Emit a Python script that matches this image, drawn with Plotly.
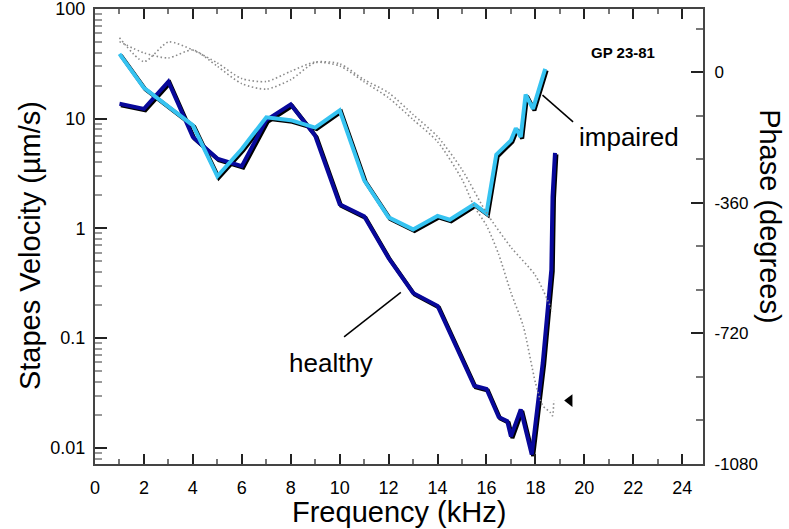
import numpy as np
import plotly.graph_objects as go

# Stapes velocity magnitude (um/s) vs frequency (kHz)
freq_impaired = [1, 2, 3, 4, 5, 6, 7, 8, 9, 10, 11, 12, 13, 14, 14.5, 15.5, 16,
                 16.4, 17, 17.2, 17.4, 17.6, 17.9, 18.4]
vel_impaired = [39, 19.1, 12.9, 8.7, 2.99, 5.3, 10.3, 9.7, 8.3, 11.9, 2.75, 1.26,
                0.98, 1.30, 1.2, 1.66, 1.37, 4.7, 6.35, 8.2, 6.8, 16.6, 12.3, 28.5]

freq_healthy = [1, 2, 3, 4, 5, 6, 7, 8, 9, 10, 11, 12, 13, 14, 15.5, 16, 16.5,
                16.85, 17.0, 17.4, 17.85, 18.3, 18.65, 18.7, 18.8]
vel_healthy = [13.7, 12.3, 21.8, 6.8, 4.33, 3.7, 9.7, 13.5, 7.0, 1.66, 1.29, 0.536,
               0.258, 0.197, 0.0368, 0.0344, 0.0191, 0.0175, 0.0127, 0.0224,
               0.0087, 0.0596, 0.42, 1.95, 4.89]

# Phase (degrees) of the two recordings
freq_phase_a = [1, 2, 3, 4, 5, 6, 7, 8, 9, 10, 11, 12, 13, 14, 15, 16, 17, 18, 18.7]
phase_a = [96, 30, 84, 62, 26, -17, -25, 3, 29, 24, -20, -56, -116, -177, -268,
           -387, -482, -560, -659]

freq_phase_b = [1, 2, 3, 4, 5, 6, 7, 8, 9, 10, 11, 12, 13, 14, 15, 15.5, 16, 16.5,
                17, 17.5, 18, 18.3, 18.6, 18.7, 18.75]
phase_b = [85, 54, 40, 62, 17, -31, -46, -20, 27, 18, -26, -70, -130, -191, -295,
           -370, -422, -502, -607, -699, -855, -919, -937, -947, -905]

x_ticks = list(range(0, 25, 2))
y_ticks = [0.01, 0.1, 1, 10, 100]
y_tick_text = ["0.01", "0.1", "1", "10", "100"]
phase_ticks = [0, -360, -720, -1080]
phase_tick_text = ["0", "-360", "-720", "-1080"]

NAVY = "#08089a"
SKY = "#36c3f1"
FONT = "Liberation Sans, Arial, Helvetica, sans-serif"
AXIS = "#444444"

fig = go.Figure()

# dotted phase curves on the right-hand axis
for f, p in ((freq_phase_a, phase_a), (freq_phase_b, phase_b)):
    fig.add_trace(go.Scatter(
        x=f, y=p, yaxis="y2", mode="lines",
        line=dict(color="#8a8a8a", width=1.6, dash="1.5px,2.5px",
                  shape="spline", smoothing=0.7),
        hoverinfo="skip", showlegend=False))

# arrowhead pointing at the end of the phase trace
fig.add_trace(go.Scatter(
    x=[freq_phase_b[-1] + 0.65], y=[phase_b[-1]], yaxis="y2", mode="markers",
    marker=dict(symbol="triangle-left", size=11, color="black"),
    hoverinfo="skip", showlegend=False))

# black drop shadow under each magnitude curve
for f, v in ((freq_healthy, vel_healthy), (freq_impaired, vel_impaired)):
    fig.add_trace(go.Scatter(
        x=np.array(f) + 0.06, y=np.array(v) * 0.968, mode="lines",
        line=dict(color="black", width=4), hoverinfo="skip", showlegend=False))

fig.add_trace(go.Scatter(x=freq_healthy, y=vel_healthy, mode="lines",
                         line=dict(color=NAVY, width=4), name="healthy",
                         showlegend=False))
fig.add_trace(go.Scatter(x=freq_impaired, y=vel_impaired, mode="lines",
                         line=dict(color=SKY, width=4), name="impaired",
                         showlegend=False))

# leader lines for the curve labels
fig.add_trace(go.Scatter(x=[18.29, 19.54], y=[16.4, 9.35], mode="lines",
                         line=dict(color="black", width=1.5),
                         hoverinfo="skip", showlegend=False))
fig.add_trace(go.Scatter(x=[12.5, 10.18], y=[0.261, 0.1026], mode="lines",
                         line=dict(color="black", width=1.5),
                         hoverinfo="skip", showlegend=False))

minor_log = [k * 10.0 ** e for e in range(-3, 2) for k in range(2, 10)]

fig.update_layout(
    width=789, height=529,
    margin=dict(l=95, r=86, t=9, b=65, autoexpand=False),
    paper_bgcolor="white", plot_bgcolor="white",
    font=dict(family=FONT, color="black"),
    xaxis=dict(
        range=[0, 24.85], tickmode="array", tickvals=x_ticks,
        ticks="inside", ticklen=10, tickwidth=1.5, tickcolor="#222",
        minor=dict(ticks="inside", ticklen=5, dtick=1, tickcolor="#777",
                   showgrid=False),
        showline=True, linecolor=AXIS, linewidth=2, mirror="ticks",
        showgrid=False, zeroline=False, automargin=False,
        tickfont=dict(size=18), ticklabelstandoff=6),
    yaxis=dict(
        type="log", range=[-2.147, 2.0], tickmode="array",
        tickvals=y_ticks, ticktext=y_tick_text,
        ticks="inside", ticklen=12, tickwidth=1.5, tickcolor="#222",
        minor=dict(ticks="inside", ticklen=7, tickmode="array",
                   tickvals=minor_log, tickcolor="#999", showgrid=False),
        showline=True, linecolor=AXIS, linewidth=2, automargin=False,
        showgrid=False, zeroline=False, ticklabeloverflow="allow",
        tickfont=dict(size=18), ticklabelstandoff=4),
    yaxis2=dict(
        overlaying="y", side="right", range=[-1080, 175], tickmode="array",
        tickvals=phase_ticks, ticktext=phase_tick_text,
        ticks="inside", ticklen=12, tickwidth=1.5, tickcolor="#222",
        minor=dict(ticks="inside", ticklen=7, dtick=120, tick0=0,
                   tickcolor="#777", showgrid=False),
        showline=True, linecolor=AXIS, linewidth=2, automargin=False,
        showgrid=False, zeroline=False, ticklabeloverflow="allow",
        tickfont=dict(size=17), ticklabelstandoff=6),
)

annotations = [
    dict(text="Frequency (kHz)", xref="paper", yref="paper", x=0.5, y=-0.105,
         xanchor="center", yanchor="middle", showarrow=False,
         font=dict(size=29)),
    dict(text="Stapes Velocity (µm/s)", xref="paper", yref="paper", x=-0.107,
         y=0.481, xanchor="center", yanchor="middle", textangle=-90,
         showarrow=False, font=dict(size=29)),
    dict(text="Phase (degrees)", xref="paper", yref="paper", x=1.11, y=0.545,
         xanchor="center", yanchor="middle", textangle=90, showarrow=False,
         font=dict(size=29)),
    dict(text="<b>GP 23-81</b>", xref="x", yref="y", x=21.6, y=1.605,
         xanchor="center", yanchor="middle", showarrow=False,
         font=dict(size=15)),
    dict(text="impaired", xref="x", yref="y", x=21.82, y=np.log10(6.8),
         xanchor="center", yanchor="middle", showarrow=False,
         font=dict(size=26)),
    dict(text="healthy", xref="x", yref="y", x=9.65, y=np.log10(0.0599),
         xanchor="center", yanchor="middle", showarrow=False,
         font=dict(size=26)),
]
fig.update_layout(annotations=annotations)

fig.write_html("out.html")
